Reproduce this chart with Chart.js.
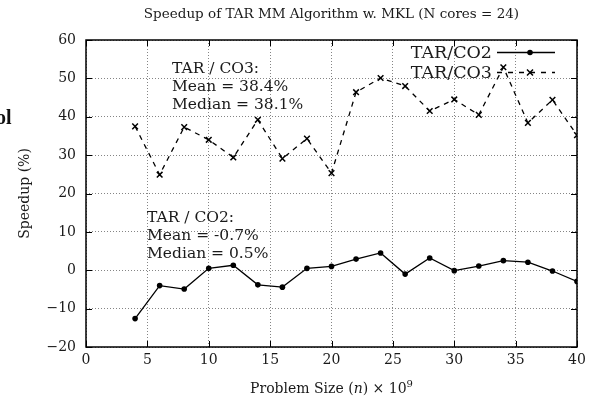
<!DOCTYPE html>
<html>
<head>
<meta charset="utf-8">
<script src="https://cdn.jsdelivr.net/npm/chart.js@4.4.0/dist/chart.umd.min.js"></script>
<style>
  html, body { margin: 0; padding: 0; background: #fff; }
  #wrap { position: relative; width: 597px; height: 407px; }
</style>
</head>
<body>
<div id="wrap"><canvas id="speedupChart" width="597" height="407"></canvas></div>
<script>
document.addEventListener('DOMContentLoaded', () => {
    const problemSizes = [4, 6, 8, 10, 12, 14, 16, 18, 20, 22, 24, 26, 28, 30, 32, 34, 36, 38, 40];
    const co2Speedup = [-12.6, -4.0, -4.9, 0.5, 1.3, -3.8, -4.4, 0.5, 1.0, 2.9, 4.5, -1.0, 3.2, -0.1, 1.1, 2.5, 2.1, -0.2, -2.9];
    const co3Speedup = [37.5, 24.9, 37.3, 34.0, 29.4, 39.2, 29.1, 34.3, 25.3, 46.4, 50.1, 48.0, 41.5, 44.5, 40.5, 52.9, 38.4, 44.4, 35.2];
    const seriesLabels = ['TAR/CO2', 'TAR/CO3'];
    const co3Note = ['TAR / CO3:', 'Mean = 38.4%', 'Median = 38.1%'];
    const co2Note = ['TAR / CO2:', 'Mean = -0.7%', 'Median = 0.5%'];
    const chartTitle = 'Speedup of TAR MM Algorithm w. MKL (N cores = 24)';
    const yTitle = 'Speedup (%)';

    const serif = '"DejaVu Serif", "Liberation Serif", serif';
    const ink = '#1a1a1a';

    const toPoints = (vals) => vals.map((v, i) => ({ x: problemSizes[i], y: v }));

    // frame, inward ticks, titles, legend, notes
    const decorations = {
        id: 'decorations',
        afterDraw(chart) {
            const { ctx, chartArea: a, scales } = chart;
            const xs = scales.x, ys = scales.y;
            ctx.save();

            ctx.strokeStyle = '#000';
            ctx.lineWidth = 1.5;
            ctx.setLineDash([]);
            ctx.strokeRect(a.left, a.top, a.right - a.left, a.bottom - a.top);

            ctx.lineWidth = 1;
            const t = 6;
            ctx.beginPath();
            xs.ticks.forEach(tk => {
                const px = Math.round(xs.getPixelForValue(tk.value)) + 0.5;
                ctx.moveTo(px, a.bottom); ctx.lineTo(px, a.bottom - t);
                ctx.moveTo(px, a.top); ctx.lineTo(px, a.top + t);
            });
            ys.ticks.forEach(tk => {
                const py = Math.round(ys.getPixelForValue(tk.value)) + 0.5;
                ctx.moveTo(a.left, py); ctx.lineTo(a.left + t, py);
                ctx.moveTo(a.right, py); ctx.lineTo(a.right - t, py);
            });
            ctx.stroke();

            ctx.fillStyle = ink;
            ctx.textBaseline = 'alphabetic';

            // title
            ctx.font = '13.5px ' + serif;
            ctx.textAlign = 'center';
            ctx.fillText(chartTitle, (a.left + a.right) / 2, 18);

            // y title
            ctx.save();
            ctx.translate(29, (a.top + a.bottom) / 2);
            ctx.rotate(-Math.PI / 2);
            ctx.font = '14px ' + serif;
            ctx.fillText(yTitle, 0, 0);
            ctx.restore();

            // x title with italic n and superscript 9
            const parts = [
                { s: 'Problem Size (', f: '14px ' + serif, dy: 0 },
                { s: 'n', f: 'italic 14px ' + serif, dy: 0 },
                { s: ') \u00d7 10', f: '14px ' + serif, dy: 0 },
                { s: '9', f: '10px ' + serif, dy: -6 }
            ];
            let total = 0;
            parts.forEach(p => { ctx.font = p.f; p.w = ctx.measureText(p.s).width; total += p.w; });
            let cx = (a.left + a.right) / 2 - total / 2;
            ctx.textAlign = 'left';
            parts.forEach(p => { ctx.font = p.f; ctx.fillText(p.s, cx, 393 + p.dy); cx += p.w; });

            // notes
            ctx.font = '15.5px ' + serif;
            co3Note.forEach((s, i) => ctx.fillText(s, 172, 73 + i * 18));
            co2Note.forEach((s, i) => ctx.fillText(s, 147, 222 + i * 18));

            // legend
            ctx.font = '17.5px ' + serif;
            ctx.textAlign = 'right';
            ctx.fillText(seriesLabels[0], 492, 58);
            ctx.fillText(seriesLabels[1], 492, 78);
            ctx.strokeStyle = '#000';
            ctx.lineWidth = 1.3;
            ctx.beginPath(); ctx.moveTo(497, 52.5); ctx.lineTo(555, 52.5); ctx.stroke();
            ctx.fillStyle = '#000';
            ctx.beginPath(); ctx.arc(530, 52.5, 2.8, 0, Math.PI * 2); ctx.fill();
            ctx.setLineDash([5, 6]);
            ctx.beginPath(); ctx.moveTo(497, 72.5); ctx.lineTo(555, 72.5); ctx.stroke();
            ctx.setLineDash([]);
            ctx.lineWidth = 1.5;
            ctx.beginPath();
            ctx.moveTo(527, 69.5); ctx.lineTo(533, 75.5);
            ctx.moveTo(533, 69.5); ctx.lineTo(527, 75.5);
            ctx.stroke();

            // clipped text at left edge of the page
            ctx.font = 'bold 20px "Liberation Serif", serif';
            ctx.textAlign = 'left';
            ctx.fillStyle = '#111';
            ctx.fillText('ol', -4, 124);

            ctx.restore();
        }
    };

    const gridStyle = {
        color: '#666',
        lineWidth: 0.8,
        drawTicks: false
    };

    new Chart(document.getElementById('speedupChart'), {
        type: 'line',
        data: {
            datasets: [
                {
                    label: seriesLabels[0],
                    data: toPoints(co2Speedup),
                    borderColor: '#000',
                    backgroundColor: '#000',
                    borderWidth: 1.3,
                    pointStyle: 'circle',
                    pointRadius: 2.8,
                    pointBorderWidth: 0,
                    tension: 0
                },
                {
                    label: seriesLabels[1],
                    data: toPoints(co3Speedup),
                    borderColor: '#000',
                    backgroundColor: '#000',
                    borderWidth: 1.3,
                    borderDash: [5, 5],
                    pointStyle: 'crossRot',
                    pointRadius: 4,
                    pointBorderWidth: 1.5,
                    tension: 0
                }
            ]
        },
        options: {
            responsive: false,
            animation: false,
            layout: { padding: { top: 40, right: 20, left: 0, bottom: 0 } },
            plugins: {
                legend: { display: false },
                title: { display: false },
                tooltip: { enabled: false }
            },
            scales: {
                x: {
                    type: 'linear',
                    min: 0,
                    max: 40,
                    ticks: {
                        stepSize: 5,
                        padding: 5,
                        color: ink,
                        font: { family: serif, size: 14 }
                    },
                    grid: gridStyle,
                    border: { display: false, dash: [1, 2] },
                    afterFit: (scale) => { scale.height = 60; }
                },
                y: {
                    min: -20,
                    max: 60,
                    ticks: {
                        stepSize: 10,
                        padding: 10,
                        color: ink,
                        font: { family: serif, size: 14 },
                        callback: (v) => String(v).replace('-', '\u2212')
                    },
                    grid: gridStyle,
                    border: { display: false, dash: [1, 2] },
                    afterFit: (scale) => { scale.width = 86; }
                }
            }
        },
        plugins: [decorations]
    });
});
</script>
</body>
</html>
